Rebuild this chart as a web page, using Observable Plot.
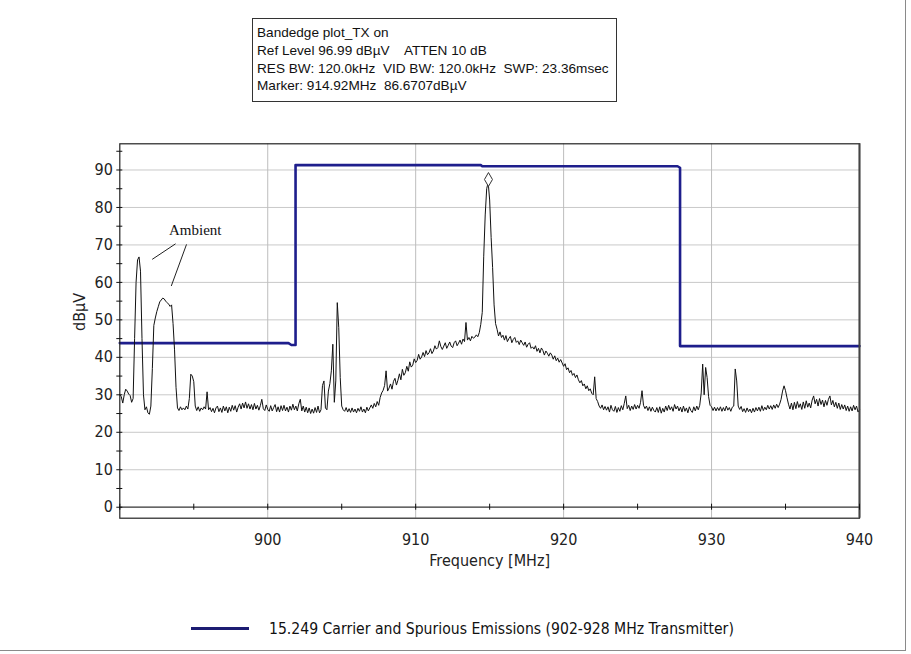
<!DOCTYPE html>
<html><head><meta charset="utf-8">
<script src="https://cdn.jsdelivr.net/npm/d3@7"></script>
<script src="https://cdn.jsdelivr.net/npm/@observablehq/plot@0.6"></script>
<style>
body{margin:0;background:#fff;}
#wrap{position:relative;width:911px;height:654px;overflow:hidden;background:#fff;}
#edge{position:absolute;left:0;top:0;width:906px;height:651px;border-right:1px solid #8a8a8a;border-bottom:1px solid #8a8a8a;box-sizing:border-box;}
#chart{position:absolute;left:0;top:0;}
#hdr{position:absolute;left:252px;top:18px;width:365px;height:84px;border:1px solid #333;box-sizing:border-box;font:13.6px "Liberation Sans",Arial,sans-serif;line-height:17.8px;padding:5px 0 0 4px;white-space:pre;color:#111;background:#fff;}
#legend{position:absolute;left:0;top:0;width:911px;height:654px;pointer-events:none;}
#legend .ln{position:absolute;left:191px;top:627px;width:58px;height:3px;background:#1c1c72;}
#legend .tx{position:absolute;left:269px;top:620px;font:15.6px "Liberation Sans Narrow","DejaVu Sans Condensed","Arial Narrow","Liberation Sans",sans-serif;color:#111;white-space:pre;}
</style>
</head><body>
<div id="wrap">
  <div id="chart"></div>
  <div id="hdr"></div>
  <div id="legend"><div class="ln"></div><div class="tx"></div></div>
  <div id="edge"></div>
</div>
<script>
// ---- header / legend text ----
const headerLines = [
  "Bandedge plot_TX on",
  "Ref Level 96.99 dB\u00b5V    ATTEN 10 dB",
  "RES BW: 120.0kHz  VID BW: 120.0kHz  SWP: 23.36msec",
  "Marker: 914.92MHz  86.6707dB\u00b5V"
];
const legendLabel = "15.249 Carrier and Spurious Emissions (902-928 MHz Transmitter)";
const xTitle = "Frequency [MHz]";
const yTitle = "dB\u00b5V";

// ---- sweep (890 - 940 MHz, 0.1 MHz points) ----
const sweepStart = 890;
const sweepStep = 0.1;
const level = [
 30.0,29.5,27.8,30.0,31.5,31.0,30.2,29.8,28.0,29.0,
 45.0,60.0,66.0,66.8,63.0,45.0,30.0,26.0,26.8,25.2,
 24.8,27.0,37.0,48.5,50.5,52.2,53.5,54.8,55.3,55.8,
 55.6,55.0,54.6,54.2,53.6,54.0,49.0,42.0,32.0,26.5,
 25.8,26.8,26.0,26.5,26.0,27.0,26.2,29.0,35.5,35.0,
 33.5,27.0,25.8,26.8,25.6,26.5,26.0,26.8,26.2,30.8,
 26.0,26.6,25.5,26.4,25.2,26.5,27.0,25.5,26.5,25.3,
 27.0,25.7,26.8,25.2,26.7,25.6,27.2,25.9,27.1,25.4,
 26.7,27.6,26.2,27.8,26.5,28.1,26.4,27.6,26.2,27.4,
 26.0,27.7,26.2,27.2,25.9,27.1,28.8,26.3,25.8,27.3,
 26.1,25.6,27.1,25.7,26.6,27.4,25.5,26.8,25.4,27.1,
 25.8,27.2,25.7,26.7,25.4,27.0,25.9,27.5,26.0,27.0,
 25.7,27.6,28.8,25.7,27.0,25.4,26.7,25.2,26.5,25.0,
 26.2,25.1,26.6,25.3,27.0,25.2,26.0,32.5,33.7,26.5,
 26.0,31.0,33.0,36.4,43.5,28.0,33.7,54.6,47.9,34.6,
 27.0,26.0,25.6,26.6,25.4,26.3,25.3,26.5,25.4,26.2,
 25.2,26.4,25.6,26.8,25.4,26.2,25.2,26.7,25.7,26.5,
 27.3,26.4,27.7,26.8,28.2,27.2,29.3,30.5,31.2,32.5,
 36.4,31.0,31.8,32.9,31.5,33.6,34.4,32.6,33.9,35.6,
 34.0,36.8,35.2,35.9,37.6,36.3,38.8,37.4,37.9,39.6,
 38.6,39.2,40.8,39.5,40.1,41.3,40.2,41.8,40.7,41.2,
 42.3,41.0,41.7,43.1,42.2,42.6,44.4,42.9,42.1,43.0,
 43.9,42.4,43.2,44.1,43.0,42.6,43.9,44.4,43.1,43.8,
 44.6,43.5,44.9,44.2,49.3,44.6,45.3,44.4,45.6,45.1,
 45.4,46.0,45.5,46.6,48.8,52.0,67.0,78.0,85.0,86.7,
 82.0,72.0,64.0,54.0,49.0,47.5,45.7,46.8,45.3,45.9,
 44.6,45.8,44.2,45.0,45.6,43.9,44.8,45.3,44.0,44.4,
 43.4,44.6,43.9,43.2,44.1,42.7,43.5,43.9,42.4,42.8,
 42.2,43.1,41.6,42.4,41.2,42.5,41.8,40.6,41.7,41.1,
 40.3,41.2,40.6,39.5,40.4,39.1,39.8,38.7,39.4,38.5,
 37.6,38.3,36.7,37.2,35.9,36.5,35.2,35.7,34.6,35.3,
 34.0,33.2,33.8,32.4,32.9,31.6,32.4,31.1,31.6,30.4,
 30.0,34.8,29.0,28.2,27.0,26.4,27.3,26.0,26.9,25.9,
 26.8,25.4,27.2,26.0,25.6,26.9,25.3,26.6,25.6,27.1,
 26.0,27.7,29.7,26.3,27.2,25.8,27.0,26.1,27.4,26.2,
 27.2,26.4,28.0,31.1,27.2,26.3,27.0,25.8,26.8,25.6,
 26.7,25.8,25.4,26.6,25.3,26.8,25.1,26.4,25.4,27.0,
 25.8,27.2,26.0,26.8,25.6,27.4,26.2,27.0,25.7,26.7,
 25.4,27.0,25.6,26.5,25.2,26.8,25.8,25.3,26.8,25.7,
 27.0,26.0,27.2,30.5,38.2,30.0,37.3,34.6,29.5,27.2,
 26.8,25.8,26.7,25.7,26.6,25.8,26.8,25.6,26.6,25.7,
 27.0,25.9,26.6,25.6,26.7,27.0,36.9,33.7,27.0,26.1,
 26.9,25.5,26.3,25.3,26.5,25.5,26.2,25.2,26.4,25.4,
 26.6,25.7,26.7,25.6,27.1,25.8,26.7,26.0,27.2,26.2,
 27.1,26.1,27.3,26.4,27.5,26.6,27.5,28.8,31.0,32.4,
 31.1,29.2,27.5,26.2,27.8,26.0,28.0,26.3,28.2,26.6,
 27.6,26.1,28.1,26.4,28.4,26.7,27.8,26.5,28.6,29.7,
 27.6,28.8,27.0,29.0,27.4,28.6,26.8,28.5,27.2,28.8,
 29.7,27.3,28.5,26.8,28.0,26.4,27.8,26.1,27.4,26.2,
 27.3,25.8,27.0,25.6,26.8,25.7,27.2,26.0,27.0,25.4,
 26.0
];

// ---- limit line (15.249) ----
const limitFreq  = [890, 901.4, 901.6, 901.88, 901.88, 914.4, 914.5, 927.7, 927.87, 927.87, 940];
const limitLevel = [43.8, 43.8, 43.3, 43.3, 91.3, 91.3, 91.0, 91.0, 90.6, 43.0, 43.0];

// ---- marker ----
const markerFreq = [914.92];
const markerLevel = [86.67];

// ---- "Ambient" annotation ----
const ambientText = "Ambient";
const ambientAt = [895.1, 73.9];
const leaderX1 = [892.19, 894.51];
const leaderY1 = [66.15, 70.15];
const leaderX2 = [893.77, 893.48];
const leaderY2 = [70.3, 59.04];

// ---- axes ----
const xDomain = [890, 940];
const yDomain = [-2.93, 96.99];
const xLabelTicks = [900, 910, 920, 930, 940];
const xAllTicks = [890, 895, 900, 905, 910, 915, 920, 925, 930, 935, 940];
const xGrid = [900, 910, 920, 930];
const yMajor = [0, 10, 20, 30, 40, 50, 60, 70, 80, 90];
const yMinor = [5, 15, 25, 35, 45, 55, 65, 75, 85, 95];

const trace = level.map((v, i) => ({f: sweepStart + i * sweepStep, v}));
const limit = limitFreq.map((f, i) => ({f, v: limitLevel[i]}));
const marker = markerFreq.map((f, i) => ({f, v: markerLevel[i]}));
const leaders = leaderX1.map((x, i) => ({x1: x, y1: leaderY1[i], x2: leaderX2[i], y2: leaderY2[i]}));

const narrow = '"Liberation Sans Narrow","DejaVu Sans Condensed","Arial Narrow","Liberation Sans",sans-serif';

const H = 580;
const chart = Plot.plot({
  width: 911,
  height: H,
  marginLeft: 119.3,
  marginRight: 52,
  marginTop: 143.3,
  marginBottom: H - 517.7,
  x: {domain: xDomain},
  y: {domain: yDomain},
  style: {fontFamily: narrow, fontSize: "16px", color: "#222", background: "transparent"},
  marks: [
    Plot.gridY(yMajor.filter(d => d > 0), {stroke: "#c9c9c9", strokeOpacity: 1}),
    Plot.gridX(xGrid, {stroke: "#bdbdbd", strokeOpacity: 1}),
    Plot.ruleY([0], {stroke: "#333", strokeWidth: 1.2}),
    Plot.line(limit, {x: "f", y: "v", stroke: "#1e1e8c", strokeWidth: 2.6, strokeLinejoin: "round"}),
    Plot.line(trace, {x: "f", y: "v", stroke: "#111", strokeWidth: 1}),
    Plot.dot(marker, {x: "f", y: "v", symbol: "diamond", r: 4.2, stroke: "#333", fill: "white", strokeWidth: 1, dy: -3}),
    Plot.link(leaders, {x1: "x1", y1: "y1", x2: "x2", y2: "y2", stroke: "#222", strokeWidth: 1}),
    Plot.text([ambientText], {x: () => ambientAt[0], y: () => ambientAt[1], fontFamily: '"Liberation Serif","Times New Roman",serif', fontSize: 15, fill: "#111"}),
    Plot.frame({stroke: "#222", strokeWidth: 1.2}),
    Plot.ruleX([xDomain[1]], {stroke: "#444", strokeWidth: 2}),
    Plot.axisY(yMajor, {tickSize: 6, dx: 3, tickFormat: () => "", label: null, stroke: "#111"}),
    Plot.axisY(yMinor, {tickSize: 6, dx: 3, tickFormat: () => "", label: null, stroke: "#111"}),
    Plot.axisY(yMajor, {tickSize: 0, tickPadding: 7, label: null, fill: "#222"}),
    Plot.axisX(xAllTicks, {tickSize: 6, dy: -14, tickFormat: () => "", label: null, stroke: "#111"}),
    Plot.axisX(xLabelTicks, {tickSize: 0, tickPadding: 15, label: null, fill: "#222"}),
    Plot.text([xTitle], {frameAnchor: "bottom", dy: 48, fill: "#222", fontSize: 16}),
    Plot.text([yTitle], {frameAnchor: "left", rotate: -90, dx: -40, fill: "#222", fontSize: 16})
  ]
});
document.getElementById("chart").appendChild(chart);
document.getElementById("hdr").textContent = headerLines.join("\n");
document.querySelector("#legend .tx").textContent = legendLabel;
</script>
</body></html>
